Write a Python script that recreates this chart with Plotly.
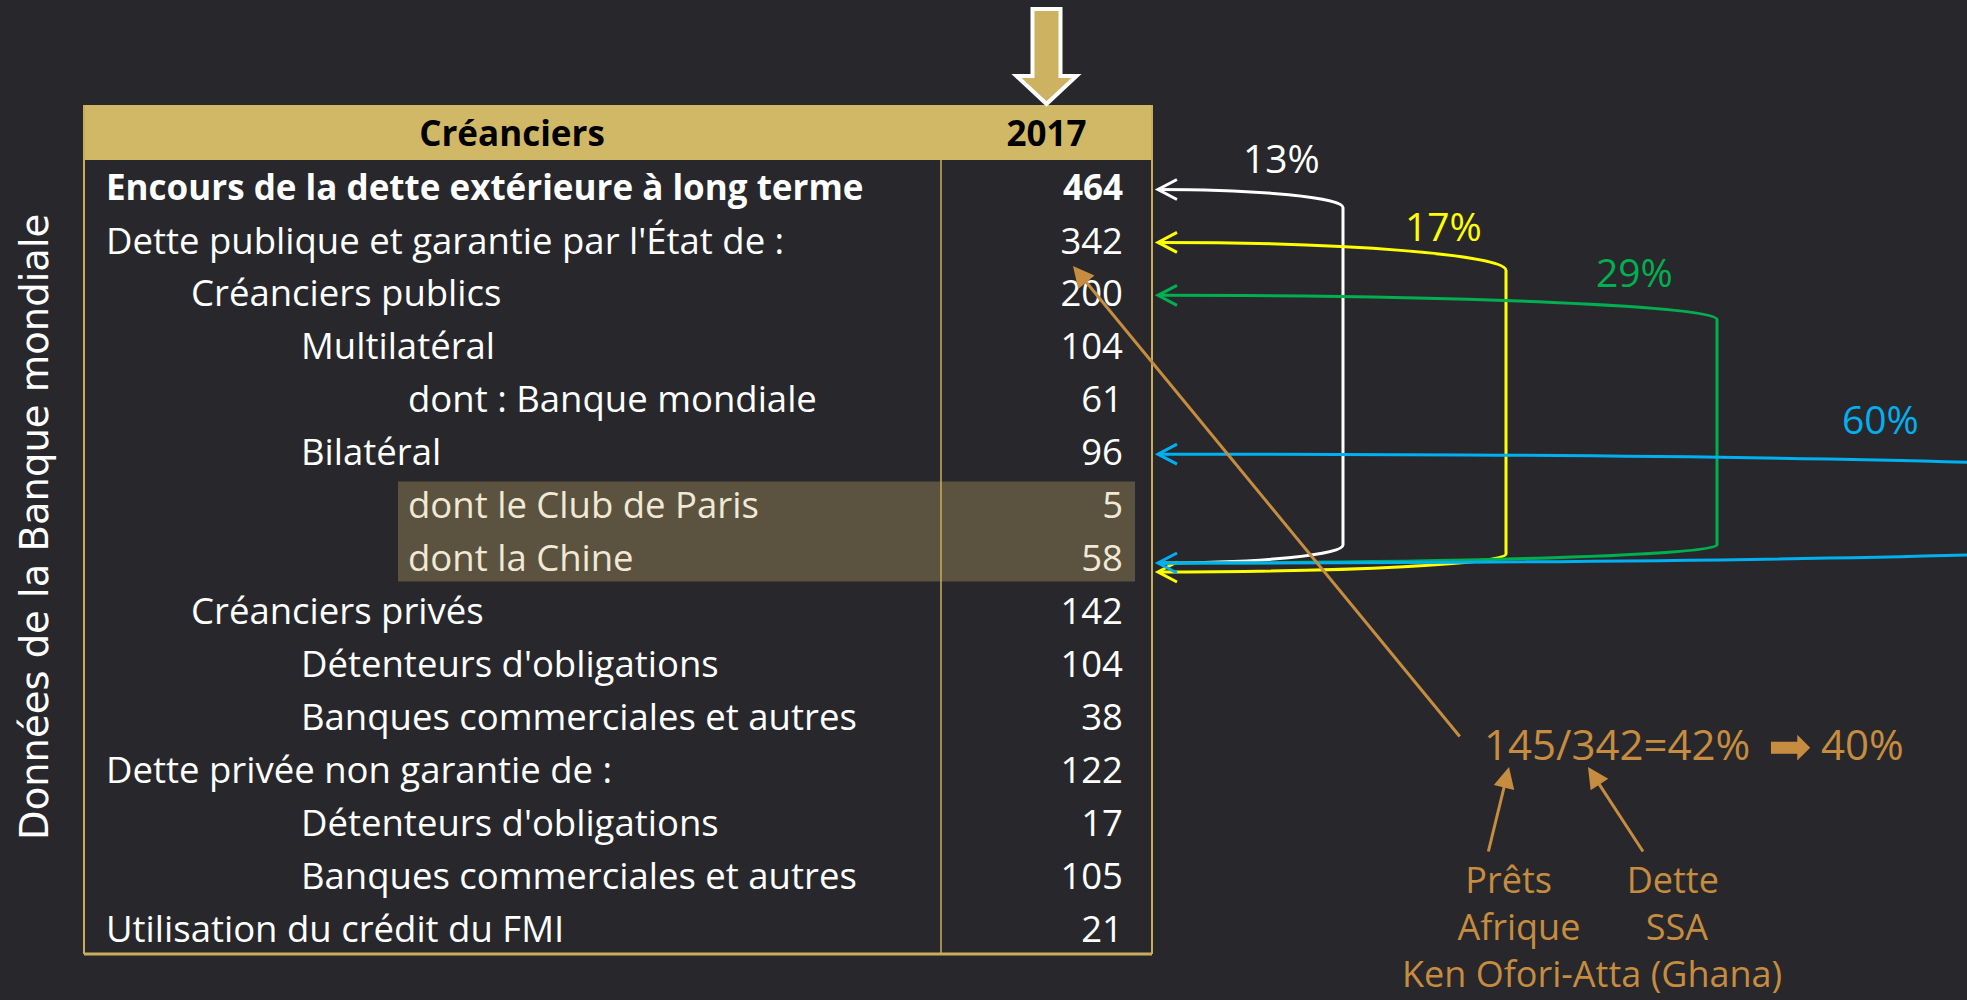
import plotly.graph_objects as go

# ---- data -------------------------------------------------------------
HEADER = ["Créanciers", "2017"]
ROW_LABELS = [
    "Encours de la dette extérieure à long terme",
    "Dette publique et garantie par l'État de :",
    "Créanciers publics",
    "Multilatéral",
    "dont : Banque mondiale",
    "Bilatéral",
    "dont le Club de Paris",
    "dont la Chine",
    "Créanciers privés",
    "Détenteurs d'obligations",
    "Banques commerciales et autres",
    "Dette privée non garantie de :",
    "Détenteurs d'obligations",
    "Banques commerciales et autres",
    "Utilisation du crédit du FMI",
]
ROW_VALUES = [464, 342, 200, 104, 61, 96, 5, 58, 142, 104, 38, 122, 17, 105, 21]
ROW_LEVELS = [0, 0, 1, 2, 3, 2, 3, 3, 1, 2, 2, 0, 2, 2, 0]
HIGHLIGHT_ROWS = [6, 7]

# share of China (row 7) in the rows pointed by each bracket
SHARE_LABELS = ["13%", "17%", "29%", "60%"]
SHARE_TARGET_ROWS = [0, 1, 2, 5]
SHARE_SOURCE_ROW = 7

SIDE_TITLE = "Données de la Banque mondiale"
NOTE_MAIN = ["145/342=42%", "\u27a1", "40%"]
NOTE_LEFT = ["Prêts", "Afrique"]
NOTE_RIGHT = ["Dette", "SSA"]
NOTE_AUTHOR = "Ken Ofori-Atta (Ghana)"

# ---- style ------------------------------------------------------------
W, H = 1967, 1000
BG = "#28282c"
GOLD = "#d1b866"
GOLD_LINE = "#c9ad5c"
BROWN = "#c68c3f"
HILITE = "#5b5340"
CREAM = "#f1e9d5"
FONT = "Open Sans"
TEXT_DY = 5  # plotly draws scatter text slightly above its anchor
NBSP = "\u00a0"

TABLE_LEFT, TABLE_RIGHT, DIVIDER = 84, 1152, 941
HEADER_TOP, BODY_TOP, BODY_BOTTOM = 105, 160, 954
ROW_H = (BODY_BOTTOM - BODY_TOP) / len(ROW_LABELS)
LEVEL_X = {0: 106, 1: 191, 2: 301, 3: 408}
NUM_RIGHT = 1123
YEAR_X = (DIVIDER + TABLE_RIGHT) / 2
TIP_X = 1158

# bracket styling: vertical x, top drop, bottom end offset, label pos, chevron at bottom
BRACKETS = [
    dict(color="#ffffff", xv=1343, drop=18, bot_dy=6, bot_arrow=False, lab=(1281, 157)),
    dict(color="#ffff00", xv=1506, drop=28, bot_dy=15, bot_arrow=True, lab=(1443, 225)),
    dict(color="#00b050", xv=1717, drop=24, bot_dy=6, bot_arrow=False, lab=(1634, 271)),
    dict(color="#00b0f0", xv=None, drop=9, bot_dy=6, bot_arrow=True, lab=(1880, 418)),
]

row_y = [BODY_TOP + ROW_H * (i + 0.5) for i in range(len(ROW_LABELS))]
text_y = [y + TEXT_DY for y in row_y]

fig = go.Figure()

shapes = []
# header band
shapes.append(dict(type="rect", x0=TABLE_LEFT, x1=TABLE_RIGHT, y0=HEADER_TOP, y1=BODY_TOP,
                   fillcolor=GOLD, line_width=0, layer="below"))
# highlighted rows (one band)
shapes.append(dict(type="rect", x0=LEVEL_X[3] - 10, x1=TABLE_RIGHT - 17,
                   y0=BODY_TOP + ROW_H * min(HIGHLIGHT_ROWS) + 4,
                   y1=BODY_TOP + ROW_H * (max(HIGHLIGHT_ROWS) + 1) - 2,
                   fillcolor=HILITE, line_width=0, layer="below"))
# table frame
for x0, y0, x1, y1, w in [
    (TABLE_LEFT, HEADER_TOP, TABLE_LEFT, BODY_BOTTOM, 2),
    (TABLE_RIGHT, HEADER_TOP, TABLE_RIGHT, BODY_BOTTOM, 2),
    (DIVIDER, BODY_TOP, DIVIDER, BODY_BOTTOM, 1.5),
    (TABLE_LEFT, BODY_BOTTOM, TABLE_RIGHT, BODY_BOTTOM, 3),
]:
    shapes.append(dict(type="line", x0=x0, y0=y0, x1=x1, y1=y1,
                       line=dict(color=GOLD_LINE, width=w)))

# block arrow above the year column
ax_c = YEAR_X
shapes.append(dict(
    type="path",
    path=(f"M {ax_c-14},9 L {ax_c+14},9 L {ax_c+14},76 L {ax_c+30},76 "
          f"L {ax_c},104 L {ax_c-30},76 L {ax_c-14},76 Z"),
    fillcolor="#cdb262", line=dict(color="#ffffff", width=4),
))


def chevron(x, y):
    return f"M {x+19},{y-10} L {x},{y} L {x+19},{y+10}"


y_src = row_y[SHARE_SOURCE_ROW]
for target, b in zip(SHARE_TARGET_ROWS, BRACKETS):
    y0 = row_y[target] + 3
    y1 = y_src + b["bot_dy"]
    if b["xv"] is not None:
        xv, d = b["xv"], b["drop"]
        path = (f"M {TIP_X},{y0} C {TIP_X + 0.55*(xv-TIP_X)},{y0} {xv},{y0 + d*0.45} {xv},{y0 + d} "
                f"L {xv},{y1 - 18} C {xv},{y1 - 8} {TIP_X + 0.55*(xv-TIP_X)},{y1} {TIP_X},{y1}")
    else:
        path = (f"M {TIP_X},{y0} Q 1700,{y0} 2000,{y0 + b['drop']} "
                f"M 2000,{y1 - b['drop']} Q 1700,{y1} {TIP_X},{y1}")
    shapes.append(dict(type="path", path=path, line=dict(color=b["color"], width=3)))
    shapes.append(dict(type="path", path=chevron(TIP_X, y0), line=dict(color=b["color"], width=3)))
    if b["bot_arrow"]:
        shapes.append(dict(type="path", path=chevron(TIP_X, y1), line=dict(color=b["color"], width=3)))

# header text
fig.add_trace(go.Scatter(
    x=[512, YEAR_X], y=[(HEADER_TOP + BODY_TOP) / 2 + TEXT_DY] * 2,
    mode="text", text=[f"<b>{h}</b>" for h in HEADER], textposition="middle center",
    textfont=dict(family=FONT, size=35, color="#000000"), hoverinfo="skip", showlegend=False,
))

# row labels
label_colors = [CREAM if i in HIGHLIGHT_ROWS else "#ffffff" for i in range(len(ROW_LABELS))]
label_sizes = [35 if i == 0 else 36.5 for i in range(len(ROW_LABELS))]
fig.add_trace(go.Scatter(
    x=[LEVEL_X[lv] for lv in ROW_LEVELS], y=text_y, mode="text",
    text=[f"<b>{t}</b>" if i == 0 else t for i, t in enumerate(ROW_LABELS)],
    textposition="middle right",
    textfont=dict(family=FONT, size=label_sizes, color=label_colors),
    hoverinfo="skip", showlegend=False,
))
# row values
fig.add_trace(go.Scatter(
    x=[NUM_RIGHT] * len(ROW_VALUES), y=text_y, mode="text",
    text=[f"<b>{v}</b>" if i == 0 else str(v) for i, v in enumerate(ROW_VALUES)],
    textposition="middle left",
    textfont=dict(family=FONT, size=label_sizes, color=label_colors),
    hoverinfo="skip", showlegend=False,
))

annotations = []
for lab, b in zip(SHARE_LABELS, BRACKETS):
    annotations.append(dict(x=b["lab"][0], y=b["lab"][1], text=lab, showarrow=False,
                            font=dict(family=FONT, size=39, color=b["color"])))

annotations.append(dict(x=34, y=527, text=SIDE_TITLE, textangle=-90, showarrow=False,
                        font=dict(family="DejaVu Sans", size=38.5, color="#ffffff")))

# brown note and arrows
for tip, tail in [((1073, 266), (1461, 738)), ((1509, 767), (1488, 853)),
                  ((1588, 767), (1644, 853))]:
    annotations.append(dict(x=tip[0], y=tip[1], ax=tail[0], ay=tail[1], axref="x", ayref="y",
                            text="", showarrow=True, arrowhead=2, arrowsize=1.4, arrowwidth=3,
                            arrowcolor=BROWN, standoff=0))
for x, txt, size in [(1482, NOTE_MAIN[0], 42), (1766, NOTE_MAIN[1], 52), (1819, NOTE_MAIN[2], 42)]:
    annotations.append(dict(x=x, y=743, text=txt, showarrow=False, xanchor="left",
                            font=dict(family=FONT, size=size, color=BROWN)))

# source block: two small captions side by side, then the author line
note_lines = [
    NOTE_LEFT[0] + NBSP * 8 + NOTE_RIGHT[0],
    NOTE_LEFT[1] + NBSP * 7 + NOTE_RIGHT[1] + NBSP * 2,
    NOTE_AUTHOR,
]
annotations.append(dict(x=1592, y=926, text="<br>".join(note_lines), showarrow=False,
                        align="center", yanchor="middle",
                        font=dict(family=FONT, size=36, color=BROWN)))

fig.update_layout(
    width=W, height=H,
    margin=dict(l=0, r=0, t=0, b=0),
    paper_bgcolor=BG, plot_bgcolor=BG,
    xaxis=dict(range=[0, W], visible=False, fixedrange=True),
    yaxis=dict(range=[H, 0], visible=False, fixedrange=True),
    shapes=shapes, annotations=annotations,
    showlegend=False,
)

fig.write_html(
    "out.html",
    config={"displayModeBar": False},
    post_script="document.body.style.margin='0';document.body.style.background='#28282c';",
)
